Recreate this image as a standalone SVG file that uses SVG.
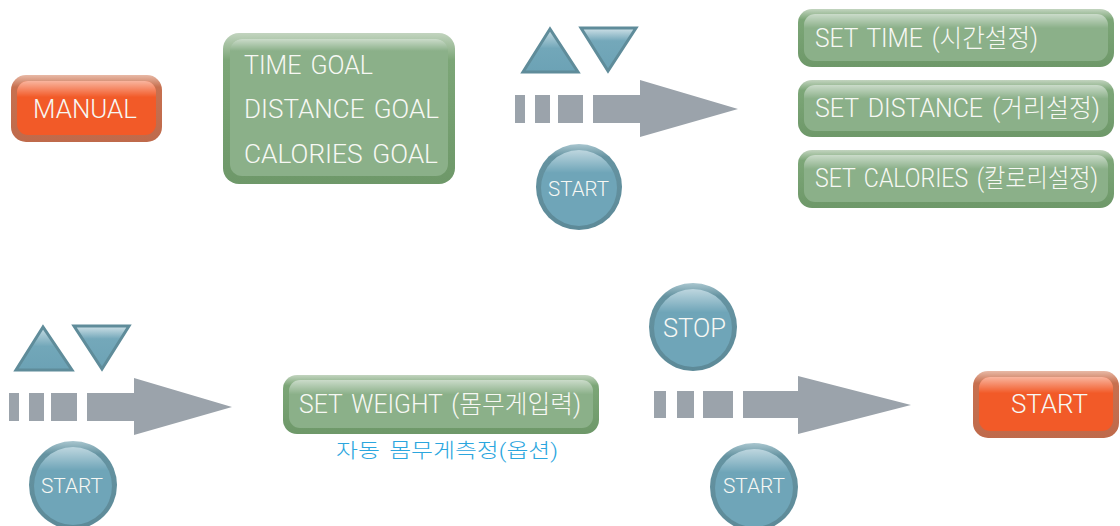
<svg xmlns="http://www.w3.org/2000/svg" width="1120" height="526" viewBox="0 0 1120 526">
<defs>
<linearGradient id="gOut" x1="0" y1="0" x2="0" y2="1">
<stop offset="0" stop-color="#c2d4bf"/><stop offset="0.18" stop-color="#7ca677"/><stop offset="1" stop-color="#6e9869"/>
</linearGradient>
<linearGradient id="oOut" x1="0" y1="0" x2="0" y2="1">
<stop offset="0" stop-color="#e8b9a6"/><stop offset="0.18" stop-color="#c7704f"/><stop offset="1" stop-color="#bf6a4b"/>
</linearGradient>
<linearGradient id="bOut" x1="0" y1="0" x2="0" y2="1">
<stop offset="0" stop-color="#a9c6cf"/><stop offset="0.15" stop-color="#6593a1"/><stop offset="1" stop-color="#5d8a98"/>
</linearGradient>
<linearGradient id="hi" x1="0" y1="0" x2="0" y2="1">
<stop offset="0" stop-color="#ffffff" stop-opacity="0.55"/><stop offset="0.3" stop-color="#ffffff" stop-opacity="0"/><stop offset="1" stop-color="#ffffff" stop-opacity="0"/>
</linearGradient>
<linearGradient id="triUp" x1="0" y1="0" x2="0" y2="1">
<stop offset="0" stop-color="#c8dde4"/><stop offset="0.45" stop-color="#72a7b9"/><stop offset="1" stop-color="#6ca2b5"/>
</linearGradient>
<linearGradient id="triDn" x1="0" y1="0" x2="0" y2="1">
<stop offset="0" stop-color="#d0e2e8"/><stop offset="0.3" stop-color="#74a8ba"/><stop offset="1" stop-color="#6ca2b5"/>
</linearGradient>
</defs>
<style>
.gOut{fill:url(#gOut)}
.gIn{fill:#8bb089}
.oOut{fill:url(#oOut)}
.oIn{fill:#f25a28}
.hi{fill:url(#hi)}
.cOut{fill:url(#bOut)}
.cIn{fill:#6fa5b8}
.tri{stroke:#5f8c9a;stroke-width:3;stroke-linejoin:miter}
.arr{fill:#9ba3ab}
text{font-family:Roboto,"Liberation Sans","Noto Sans CJK KR",sans-serif;font-weight:300;fill:#f7f8f4;word-spacing:3px}
.t25{font-size:25px}
.t26{font-size:26px}
.t21{font-size:21px}
.sub{font-size:20px;fill:#2ba6de}
</style>
<rect width="1120" height="526" fill="#ffffff"/>

<g id="connectors">
<g id="arrow-top">
<rect class="arr" x="515" y="95" width="10" height="28"/>
<rect class="arr" x="535" y="95" width="15" height="28"/>
<rect class="arr" x="558" y="95" width="25" height="28"/>
<polygon class="arr" points="593,95 640,95 640,80 738,109 640,137 640,123 593,123"/>
</g>
<g id="arrow-bottom-left">
<rect class="arr" x="9" y="393" width="10" height="28"/>
<rect class="arr" x="29" y="393" width="15" height="28"/>
<rect class="arr" x="51" y="393" width="26" height="28"/>
<polygon class="arr" points="87,393 134,393 134,378 232,407 134,435 134,421 87,421"/>
</g>
<g id="arrow-bottom-right">
<rect class="arr" x="654" y="391" width="12" height="27"/>
<rect class="arr" x="677" y="391" width="17" height="27"/>
<rect class="arr" x="703" y="391" width="30" height="27"/>
<polygon class="arr" points="743,391 798,391 798,376 911,405 798,434 798,418 743,418"/>
</g>
</g>

<g id="manual">
<rect class="oOut" x="11" y="75" width="151" height="67" rx="15"/>
<rect class="oIn" x="17" y="81" width="139" height="54" rx="11"/>
<rect class="hi" x="17" y="81" width="139" height="54" rx="11"/>
<text class="t25" x="33" y="118" textLength="104" lengthAdjust="spacingAndGlyphs">MANUAL</text>
</g>

<g id="goals">
<rect class="gOut" x="223" y="33" width="232" height="151" rx="16"/>
<rect class="gIn" x="230" y="39" width="218" height="137" rx="12"/>
<rect class="hi" x="230" y="39" width="218" height="40" rx="12"/>
<text class="t26" x="244" y="74" textLength="129" lengthAdjust="spacingAndGlyphs">TIME GOAL</text>
<text class="t26" x="244" y="118" textLength="195" lengthAdjust="spacingAndGlyphs">DISTANCE GOAL</text>
<text class="t26" x="244" y="163" textLength="194" lengthAdjust="spacingAndGlyphs">CALORIES GOAL</text>
</g>

<g id="up-top">
<polygon class="tri" fill="url(#triUp)" points="550,29 523,72 578,72"/>
</g>
<g id="down-top">
<polygon class="tri" fill="url(#triDn)" points="581,28 636,28 608,71"/>
</g>
<g id="start-top">
<circle class="cOut" cx="579" cy="187" r="43"/>
<circle class="cIn" cx="579" cy="188" r="38"/>
<circle class="hi" cx="579" cy="188" r="38"/>
<text class="t21" x="548" y="196" textLength="61" lengthAdjust="spacingAndGlyphs">START</text>
</g>

<g id="set-time">
<rect class="gOut" x="798" y="9" width="316" height="58" rx="14"/>
<rect class="gIn" x="804" y="14" width="304" height="47" rx="11"/>
<rect class="hi" x="804" y="14" width="304" height="47" rx="11"/>
<text class="t25" x="815" y="47" textLength="223" lengthAdjust="spacingAndGlyphs">SET TIME (시간설정)</text>
</g>
<g id="set-distance">
<rect class="gOut" x="798" y="80" width="316" height="57" rx="14"/>
<rect class="gIn" x="804" y="85" width="304" height="46" rx="11"/>
<rect class="hi" x="804" y="85" width="304" height="46" rx="11"/>
<text class="t25" x="815" y="117" textLength="285" lengthAdjust="spacingAndGlyphs">SET DISTANCE (거리설정)</text>
</g>
<g id="set-calories">
<rect class="gOut" x="798" y="150" width="316" height="58" rx="14"/>
<rect class="gIn" x="804" y="155" width="304" height="47" rx="11"/>
<rect class="hi" x="804" y="155" width="304" height="47" rx="11"/>
<text class="t25" x="815" y="187" textLength="283" lengthAdjust="spacingAndGlyphs">SET CALORIES (칼로리설정)</text>
</g>

<g id="up-bottom">
<polygon class="tri" fill="url(#triUp)" points="43,327 16,370 72,370"/>
</g>
<g id="down-bottom">
<polygon class="tri" fill="url(#triDn)" points="74,326 129,326 102,369"/>
</g>
<g id="start-bottom-left">
<circle class="cOut" cx="73" cy="485" r="44"/>
<circle class="cIn" cx="73" cy="486" r="39"/>
<circle class="hi" cx="73" cy="486" r="39"/>
<text class="t21" x="41" y="493" textLength="62" lengthAdjust="spacingAndGlyphs">START</text>
</g>

<g id="set-weight">
<rect class="gOut" x="283" y="375" width="316" height="59" rx="14"/>
<rect class="gIn" x="289" y="380" width="304" height="48" rx="11"/>
<rect class="hi" x="289" y="380" width="304" height="48" rx="11"/>
<text class="t25" x="299" y="413" textLength="282" lengthAdjust="spacingAndGlyphs">SET WEIGHT (몸무게입력)</text>
<text class="sub" x="336" y="458" textLength="222" lengthAdjust="spacingAndGlyphs">자동 몸무게측정(옵션)</text>
</g>

<g id="stop">
<circle class="cOut" cx="693" cy="327" r="44"/>
<circle class="cIn" cx="693" cy="328" r="39"/>
<circle class="hi" cx="693" cy="328" r="39"/>
<text class="t25" x="663" y="337" textLength="63" lengthAdjust="spacingAndGlyphs">STOP</text>
</g>
<g id="start-bottom-right">
<circle class="cOut" cx="754" cy="487" r="44"/>
<circle class="cIn" cx="754" cy="488" r="39"/>
<circle class="hi" cx="754" cy="488" r="39"/>
<text class="t21" x="723" y="493" textLength="62" lengthAdjust="spacingAndGlyphs">START</text>
</g>

<g id="start-end">
<rect class="oOut" x="973" y="371" width="146" height="67" rx="15"/>
<rect class="oIn" x="979" y="377" width="134" height="54" rx="11"/>
<rect class="hi" x="979" y="377" width="134" height="54" rx="11"/>
<text class="t25" x="1011" y="413" textLength="77" lengthAdjust="spacingAndGlyphs">START</text>
</g>
</svg>
